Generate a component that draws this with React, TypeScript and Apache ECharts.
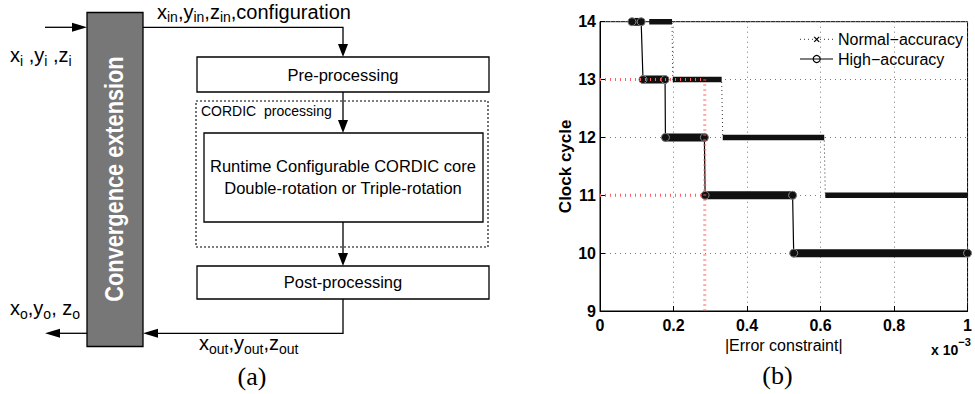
import React, { useEffect, useRef } from "react";
import * as echarts from "echarts";

// ---------- chart (b) data ----------
const xTickValues = [0, 0.2, 0.4, 0.6, 0.8, 1];
const yTickValues = [9, 10, 11, 12, 13, 14];
const seriesNames = ["Normal\u2212accuracy", "High\u2212accuracy"];
// step corners (x in units of 1e-3)
const normalX = [0.134, 0.196, 0.198, 0.331, 0.334, 0.61, 0.613, 1.0];
const normalY = [14, 14, 13, 13, 12, 12, 11, 11];
const highX = [0.087, 0.112, 0.117, 0.177, 0.178, 0.284, 0.286, 0.524, 0.527, 1.0];
const highY = [14, 14, 13, 13, 12, 12, 11, 11, 10, 10];
// red guide lines
const refX = [0.285];
const refLevels = [13, 11];
const refBottom = [9];

const FONT = "'Liberation Sans', Arial, Helvetica, sans-serif";
const SERIF = "'Liberation Serif', 'Times New Roman', serif";

const zip = (xs: number[], ys: number[]) => xs.map((x, i) => [x, ys[i]]);
const plateaus = (xs: number[], ys: number[]) => {
  const out: number[][][] = [];
  for (let i = 0; i + 1 < xs.length; i += 2) out.push([[xs[i], ys[i]], [xs[i + 1], ys[i + 1]]]);
  return out;
};

function sub(parts: [string, string][], main: number, small: number) {
  let text = "";
  parts.forEach(([a, b]) => {
    text += `{m|${a}}` + (b ? `{s|${b}}` : "");
  });
  return {
    text,
    rich: {
      m: { fontSize: main, fontFamily: FONT, fill: "#000", lineHeight: 25 },
      s: { fontSize: small, fontFamily: FONT, fill: "#000", lineHeight: small, verticalAlign: "bottom" },
    },
  };
}

function arrowDown(x: number, tipY: number) {
  return { type: "polygon", shape: { points: [[x - 5, tipY - 13], [x + 5, tipY - 13], [x, tipY]] }, style: { fill: "#000" } };
}
function arrowRight(tipX: number, y: number) {
  return { type: "polygon", shape: { points: [[tipX - 15, y - 4.5], [tipX - 15, y + 4.5], [tipX, y]] }, style: { fill: "#000" } };
}
function arrowLeft(tipX: number, y: number) {
  return { type: "polygon", shape: { points: [[tipX + 15, y - 4.5], [tipX + 15, y + 4.5], [tipX, y]] }, style: { fill: "#000" } };
}
const stroke = { stroke: "#000", lineWidth: 1.3, fill: "none" };

function diagram(): any[] {
  const els: any[] = [];
  // convergence extension block
  els.push({ type: "rect", shape: { x: 87, y: 12.5, width: 56, height: 334 }, style: { fill: "#777777", stroke: "#000", lineWidth: 1.3 } });
  els.push({
    type: "text", x: 114, y: 179, rotation: Math.PI / 2, scaleX: 0.87,
    style: { text: "Convergence extension", fontSize: 25, fontWeight: "bold", fontFamily: FONT, fill: "#fff", align: "center", verticalAlign: "middle" },
  });
  // boxes
  els.push({ type: "rect", shape: { x: 197, y: 57, width: 292, height: 35 }, style: { fill: "#fff", ...stroke } });
  els.push({ type: "rect", shape: { x: 196, y: 101, width: 292, height: 146 }, style: { fill: "none", stroke: "#000", lineWidth: 1.1, lineDash: [2, 2] } });
  els.push({ type: "rect", shape: { x: 204, y: 133, width: 279, height: 89 }, style: { fill: "#fff", ...stroke } });
  els.push({ type: "rect", shape: { x: 197, y: 266, width: 292, height: 33 }, style: { fill: "#fff", ...stroke } });
  // box texts
  const t = (text: string, x: number, y: number, size: number, align = "center") => ({
    type: "text", x, y, style: { text, fontSize: size, fontFamily: FONT, fill: "#000", align, verticalAlign: "middle" },
  });
  els.push(t("Pre-processing", 343, 74.5, 16.5));
  els.push(t("CORDIC  processing", 201, 110.5, 14, "left"));
  els.push(t("Runtime Configurable CORDIC core", 343, 166, 16.5));
  els.push(t("Double-rotation or Triple-rotation", 343, 188, 16.5));
  els.push(t("Post-processing", 343, 282, 16.5));
  // connectors
  els.push({ type: "line", shape: { x1: 45, y1: 27.3, x2: 76, y2: 27.3 }, style: stroke });
  els.push(arrowRight(87, 27.3));
  els.push({ type: "polyline", shape: { points: [[143, 27.3], [343, 27.3], [343, 46]] }, style: stroke });
  els.push(arrowDown(343, 57));
  els.push({ type: "line", shape: { x1: 343, y1: 92, x2: 343, y2: 122 }, style: stroke });
  els.push(arrowDown(343, 133));
  els.push({ type: "line", shape: { x1: 343, y1: 222, x2: 343, y2: 255 }, style: stroke });
  els.push(arrowDown(343, 266));
  els.push({ type: "polyline", shape: { points: [[343, 299], [343, 333.3], [154, 333.3]] }, style: stroke });
  els.push(arrowLeft(143, 333.3));
  els.push({ type: "line", shape: { x1: 87, y1: 333.3, x2: 56, y2: 333.3 }, style: stroke });
  els.push(arrowLeft(45, 333.3));
  // signal labels
  const lab = (parts: [string, string][], x: number, y: number) => ({
    type: "text", x, y, style: { ...sub(parts, 20, 14), align: "left", verticalAlign: "middle" },
  });
  els.push(lab([["x", "in"], [",y", "in"], [",z", "in"], [",configuration", ""]], 157, 11.5));
  els.push(lab([["x", "i"], [" ,y", "i"], [" ,z", "i"]], 10, 55));
  els.push(lab([["x", "o"], [",y", "o"], [", z", "o"]], 10, 308));
  els.push(lab([["x", "out"], [",y", "out"], [",z", "out"]], 199, 343));
  els.push({ type: "text", x: 252, y: 376, style: { text: "(a)", fontSize: 26, fontFamily: SERIF, fill: "#000", align: "center", verticalAlign: "middle" } });
  return els;
}

function legendAndNotes(): any[] {
  const els: any[] = [];
  els.push({ type: "line", shape: { x1: 800, y1: 39.3, x2: 833, y2: 39.3 }, style: { stroke: "#333", lineWidth: 1, lineDash: [1, 3] } });
  els.push({ type: "line", shape: { x1: 814.2, y1: 36.8, x2: 819.2, y2: 41.8 }, style: { stroke: "#000", lineWidth: 1.2 } });
  els.push({ type: "line", shape: { x1: 814.2, y1: 41.8, x2: 819.2, y2: 36.8 }, style: { stroke: "#000", lineWidth: 1.2 } });
  els.push({ type: "text", x: 838, y: 39.3, style: { text: seriesNames[0], fontSize: 16, fontFamily: FONT, fill: "#000", align: "left", verticalAlign: "middle" } });
  els.push({ type: "line", shape: { x1: 800, y1: 59, x2: 833, y2: 59 }, style: { stroke: "#000", lineWidth: 1.2 } });
  els.push({ type: "circle", shape: { cx: 816.7, cy: 59, r: 3.5 }, style: { fill: "none", stroke: "#000", lineWidth: 1.2 } });
  els.push({ type: "text", x: 838, y: 59, style: { text: seriesNames[1], fontSize: 16, fontFamily: FONT, fill: "#000", align: "left", verticalAlign: "middle" } });
  // exponent note
  els.push({
    type: "text", x: 931, y: 350,
    style: {
      text: "{m|x 10}{s|\u22123}",
      align: "left", verticalAlign: "middle",
      rich: {
        m: { fontSize: 14, fontWeight: "bold", fontFamily: FONT, fill: "#000", lineHeight: 28 },
        s: { fontSize: 11, fontWeight: "bold", fontFamily: FONT, fill: "#000", lineHeight: 11, verticalAlign: "top" },
      },
    },
  });
  els.push({ type: "text", x: 777.5, y: 375, style: { text: "(b)", fontSize: 26, fontFamily: SERIF, fill: "#000", align: "center", verticalAlign: "middle" } });
  return els;
}

export default function App() {
  const ref = useRef<HTMLDivElement>(null);
  useEffect(() => {
    if (!ref.current) return;
    const chart = echarts.init(ref.current, undefined, { renderer: "svg", width: 975, height: 394 });
    const series: any[] = [];
    series.push({
      type: "line", name: seriesNames[0], data: zip(normalX, normalY), symbol: "none",
      lineStyle: { color: "#333", width: 1, type: [1, 3] }, z: 3, silent: true,
    });
    plateaus(normalX, normalY).forEach((seg) =>
      series.push({ type: "line", data: seg, symbol: "none", lineStyle: { color: "#111", width: 5.5, cap: "butt" }, z: 4, silent: true })
    );
    series.push({
      type: "line", name: seriesNames[1], data: zip(highX, highY), symbol: "none",
      lineStyle: { color: "#000", width: 1.2 }, z: 5, silent: true,
    });
    plateaus(highX, highY).forEach((seg) =>
      series.push({
        type: "line", data: seg, symbol: "circle", symbolSize: 8, showSymbol: true,
        itemStyle: { color: "#111", borderColor: "#888", borderWidth: 1 },
        lineStyle: { color: "#111", width: 8, cap: "round" }, z: 6, silent: true,
      })
    );
    const red = { color: "#ff5f5f", width: 3, type: [1, 4] };
    refLevels.forEach((l) =>
      series.push({ type: "line", data: [[0, l], [refX[0], l]], symbol: "none", lineStyle: red, z: 7, silent: true })
    );
    series.push({ type: "line", data: [[refX[0], refLevels[0]], [refX[0], refBottom[0]]], symbol: "none", lineStyle: red, z: 7, silent: true });

    chart.setOption({
      animation: false,
      textStyle: { fontFamily: FONT },
      grid: { left: 600, top: 21.7, width: 373, height: 289.3, show: true, borderColor: "#000", borderWidth: 1, containLabel: false },
      xAxis: {
        type: "value", min: xTickValues[0], max: xTickValues[xTickValues.length - 1], interval: 0.2,
        name: "|Error constraint|", nameLocation: "middle", nameGap: 22,
        nameTextStyle: { fontSize: 16, color: "#000", fontFamily: FONT },
        axisLine: { show: true, lineStyle: { color: "#000", width: 1 } },
        axisTick: { show: true, inside: true, length: 5, lineStyle: { color: "#000" } },
        axisLabel: {
          fontSize: 16, fontWeight: "bold", color: "#000", margin: 6, fontFamily: FONT,
          formatter: (v: number) => (v === 0 ? "0" : v === 1 ? "1" : v.toFixed(1)),
        },
        splitLine: { show: true, lineStyle: { color: "#777", width: 1, type: [1, 4] } },
      },
      yAxis: {
        type: "value", min: yTickValues[0], max: yTickValues[yTickValues.length - 1], interval: 1,
        name: "Clock cycle", nameLocation: "middle", nameGap: 24,
        nameTextStyle: { fontSize: 17, fontWeight: "bold", color: "#000", fontFamily: FONT },
        axisLine: { show: true, lineStyle: { color: "#000", width: 1 } },
        axisTick: { show: true, inside: true, length: 5, lineStyle: { color: "#000" } },
        axisLabel: { fontSize: 16, fontWeight: "bold", color: "#000", margin: 4, fontFamily: FONT },
        splitLine: { show: true, lineStyle: { color: "#777", width: 1, type: [1, 4] } },
      },
      series,
      graphic: [...diagram(), ...legendAndNotes()],
    });
    return () => chart.dispose();
  }, []);
  return <div ref={ref} style={{ position: "absolute", left: 0, top: 0, width: 975, height: 394, background: "#fff" }} />;
}
